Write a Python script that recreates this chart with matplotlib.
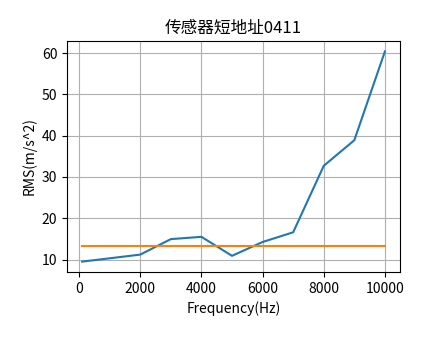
import matplotlib
matplotlib.use('Agg')
import matplotlib.pyplot as plt

plt.rcParams['font.family'] = ['Noto Sans CJK SC', 'DejaVu Sans']
plt.rcParams['axes.unicode_minus'] = False

# 频率和RMS数据
freq = [100, 1000, 2000, 3000, 4000, 5000, 6000, 7000, 8000, 9000, 10000]
rms = [9.5, 10.3, 11.2, 14.95, 15.5, 10.9, 14.25, 16.6, 32.7, 38.9, 60.4]
threshold = 13.37

fig = plt.figure(figsize=(4.44, 3.41), dpi=100)
ax = fig.add_axes([0.151, 0.202, 0.750, 0.678])
ax.plot(freq, rms)
ax.plot([freq[0], freq[-1]], [threshold, threshold])
ax.set_title('传感器短地址0411')
ax.set_xlabel('Frequency(Hz)')
ax.set_ylabel('RMS(m/s^2)')
ax.grid(True)
fig.savefig('out.png', dpi=100)
